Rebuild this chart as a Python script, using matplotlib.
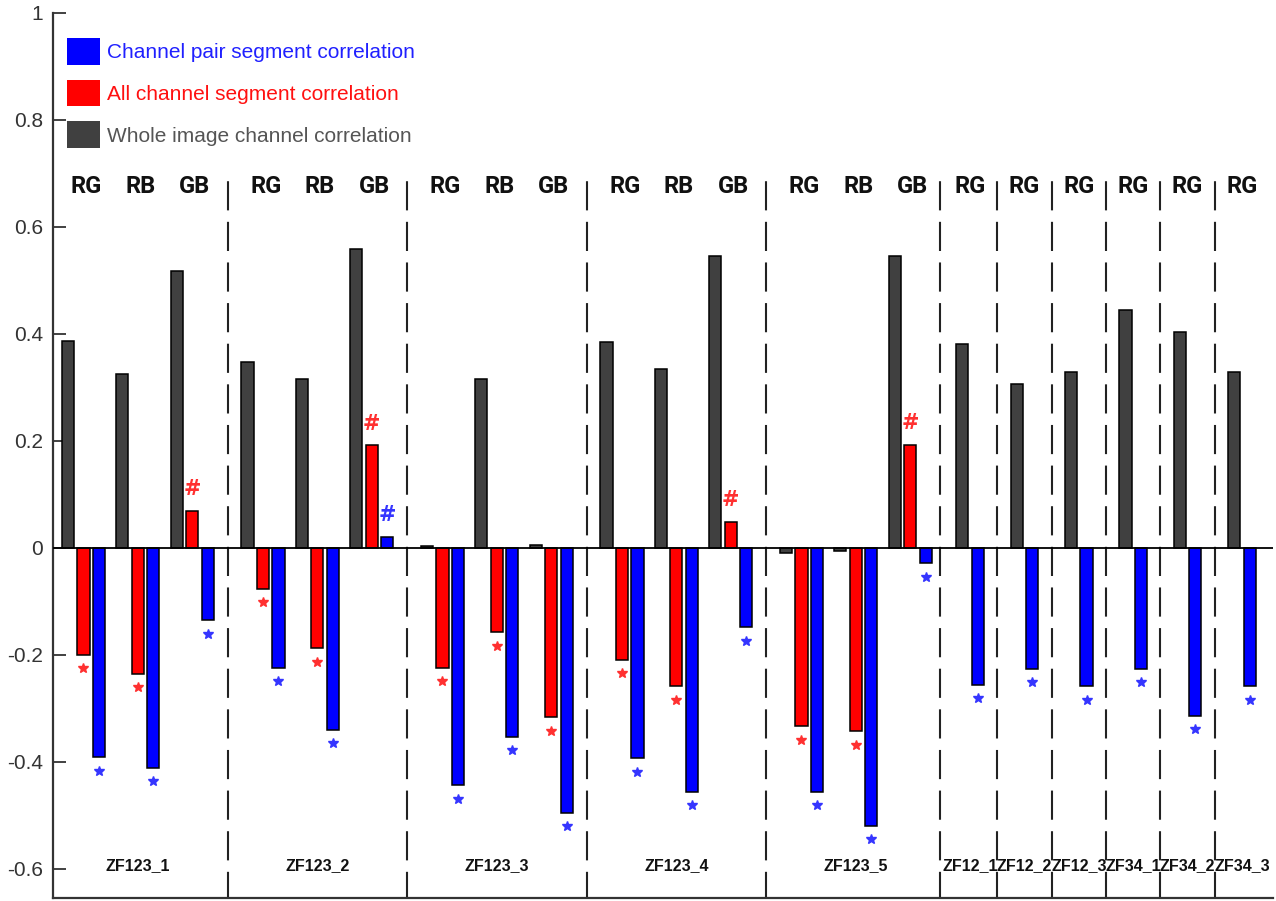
import numpy as np
import matplotlib

matplotlib.use('Agg')
from matplotlib import pyplot as plt
from matplotlib.patches import Patch

plt.rcParams['font.family'] = ['Liberation Sans', 'DejaVu Sans']
plt.rcParams['axes.unicode_minus'] = False

# groups with three channel pairs
groups3 = ['ZF123_1', 'ZF123_2', 'ZF123_3', 'ZF123_4', 'ZF123_5']
pairs3 = ['RG', 'RB', 'GB']
whole3 = [[0.387, 0.325, 0.517],
          [0.348, 0.316, 0.559],
          [0.003, 0.316, 0.006],
          [0.384, 0.335, 0.546],
          [-0.009, -0.007, 0.546]]
allseg3 = [[-0.200, -0.236, 0.069],
           [-0.077, -0.188, 0.192],
           [-0.224, -0.158, -0.317],
           [-0.209, -0.259, 0.049],
           [-0.334, -0.343, 0.193]]
pairseg3 = [[-0.392, -0.411, -0.136],
            [-0.224, -0.340, 0.021],
            [-0.444, -0.353, -0.496],
            [-0.394, -0.457, -0.149],
            [-0.457, -0.520, -0.029]]
red_marks3 = [['*', '*', '#'],
              ['*', '*', '#'],
              ['*', '*', '*'],
              ['*', '*', '#'],
              ['*', '*', '#']]
blue_marks3 = [['*', '*', '*'],
               ['*', '*', '#'],
               ['*', '*', '*'],
               ['*', '*', '*'],
               ['*', '*', '*']]

# groups with a single channel pair
groups1 = ['ZF12_1', 'ZF12_2', 'ZF12_3', 'ZF34_1', 'ZF34_2', 'ZF34_3']
pairs1 = ['RG', 'RG', 'RG', 'RG', 'RG', 'RG']
whole1 = [0.381, 0.306, 0.328, 0.445, 0.403, 0.328]
pairseg1 = [-0.256, -0.227, -0.259, -0.227, -0.314, -0.259]
blue_marks1 = ['*', '*', '*', '*', '*', '*']

legend_labels = ['Channel pair segment correlation',
                 'All channel segment correlation',
                 'Whole image channel correlation']

C_GRAY = '#404040'
C_RED = '#ff0000'
C_BLUE = '#0000ff'

# layout
group_step = 3.3
single_start_gap = 1.1
d = 0.285
w = 0.225
star_off = 0.025
hash_off = 0.040

fig = plt.figure(figsize=(12.76, 9.01), dpi=100)
ax = fig.add_axes([53 / 1276, 3 / 901, 1220 / 1276, 885 / 901])

slots3 = [[k * group_step + j for j in range(3)] for k in range(len(groups3))]
last = slots3[-1][-1]
slots1 = [last + single_start_gap + i for i in range(len(groups1))]


def mark(x, v, m, c):
    if m == '*':
        ax.plot(x, v - star_off, marker='*', ms=7.5, color=c, mec=c, ls='none', zorder=4)
    elif m == '#':
        ax.text(x, v + hash_off, '#', color=c, ha='center', va='center',
                fontsize=15, fontweight='bold', family='DejaVu Sans', zorder=4)


bar_kw = dict(width=w, edgecolor='black', linewidth=1.1, zorder=3)

for k in range(len(groups3)):
    xs = np.array(slots3[k])
    ax.bar(xs - d, whole3[k], color=C_GRAY, **bar_kw)
    ax.bar(xs, allseg3[k], color=C_RED, **bar_kw)
    ax.bar(xs + d, pairseg3[k], color=C_BLUE, **bar_kw)
    for j in range(3):
        mark(xs[j], allseg3[k][j], red_marks3[k][j], '#ff3030')
        mark(xs[j] + d, pairseg3[k][j], blue_marks3[k][j], '#3535ff')
        ax.text(xs[j] + 0.05, 0.675, pairs3[j], ha='center', va='center', fontsize=17,
                fontweight='bold', family=['Roboto', 'DejaVu Sans'], color='#111111')
    ax.text(xs[1], -0.594, groups3[k], ha='center', va='center', fontsize=11.5,
            fontweight='bold', color='#111111')

xs1 = np.array(slots1)
ax.bar(xs1 - d / 2, whole1, color=C_GRAY, **bar_kw)
ax.bar(xs1 + d / 2, pairseg1, color=C_BLUE, **bar_kw)
for i in range(len(groups1)):
    mark(xs1[i] + d / 2, pairseg1[i], blue_marks1[i], '#3535ff')
    ax.text(xs1[i], 0.675, pairs1[i], ha='center', va='center', fontsize=17,
            fontweight='bold', family=['Roboto', 'DejaVu Sans'], color='#111111')
    ax.text(xs1[i], -0.594, groups1[i], ha='center', va='center', fontsize=11.5,
            fontweight='bold', color='#111111')

# dashed group dividers
bounds = [slots3[k][-1] for k in range(len(groups3))] + list(slots1[:-1])
nexts = [slots3[k + 1][0] for k in range(len(groups3) - 1)] + list(slots1)
for a, b in zip(bounds, nexts):
    xm = (a + b) / 2
    ax.plot([xm, xm], [-0.66, 0.70], color='#222222', lw=1.5,
            dashes=(14, 5.5), zorder=2)

ax.axhline(0, color='black', lw=1.3, zorder=3.5)

ax.set_xlim(-0.56, 21.87)
ax.set_ylim(-0.655, 1.0)
yt = [-0.6, -0.4, -0.2, 0, 0.2, 0.4, 0.6, 0.8, 1.0]
ax.set_yticks(yt)
ax.set_yticklabels(['-0.6', '-0.4', '-0.2', '0', '0.2', '0.4', '0.6', '0.8', '1'])
ax.set_xticks([])
ax.tick_params(axis='y', direction='in', length=9, width=1.3, color='#333333',
               labelsize=15, labelcolor='#333333', pad=7)
for s in ['top', 'right']:
    ax.spines[s].set_visible(False)
for s in ['left', 'bottom']:
    ax.spines[s].set_linewidth(1.6)
    ax.spines[s].set_color('#333333')

handles = [Patch(facecolor=C_BLUE, edgecolor='none'),
           Patch(facecolor=C_RED, edgecolor='none'),
           Patch(facecolor=C_GRAY, edgecolor='none')]
leg = ax.legend(handles, legend_labels, loc='upper left', bbox_to_anchor=(0.0115, 0.972),
                frameon=False, fontsize=15, handlelength=1.6, handleheight=1.6,
                handletextpad=0.3, labelspacing=0.72, borderpad=0, borderaxespad=0)
for t, c in zip(leg.get_texts(), ['#2020ff', '#ff1010', '#555555']):
    t.set_color(c)

fig.savefig('out.png', dpi=100)
